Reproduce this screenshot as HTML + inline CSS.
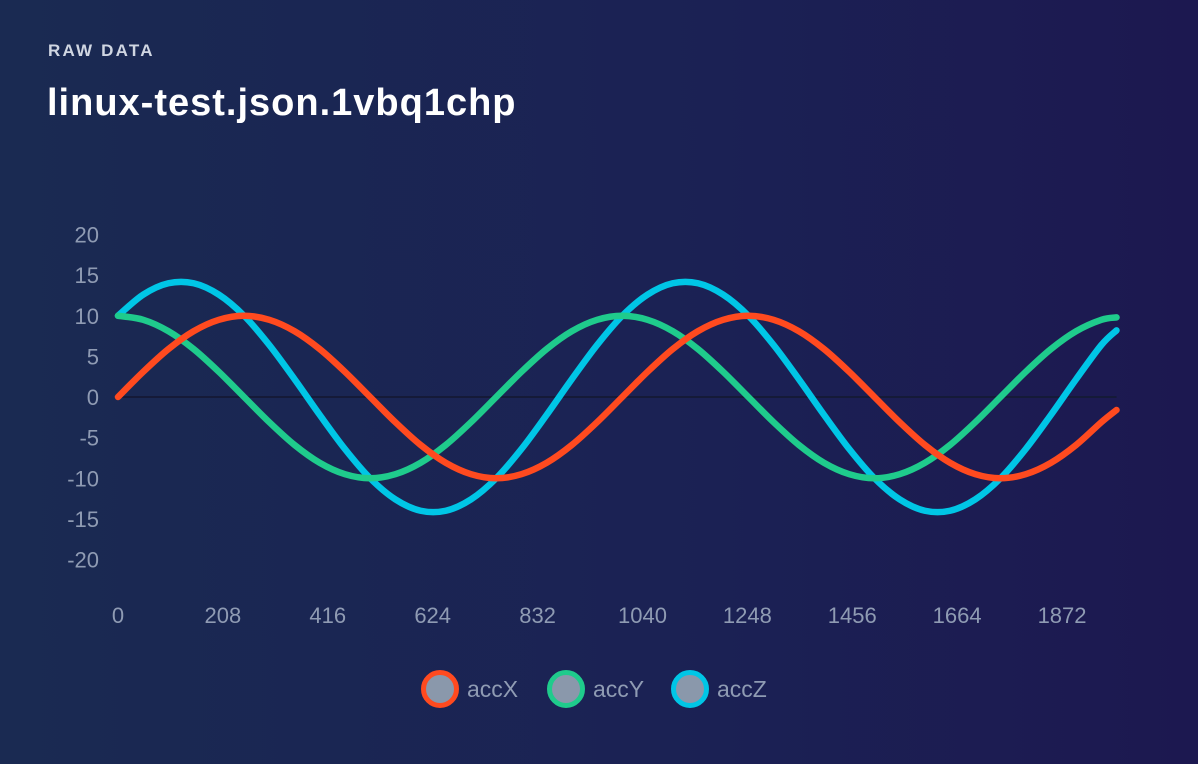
<!DOCTYPE html>
<html><head><meta charset="utf-8">
<style>
html,body{margin:0;padding:0;}
body{width:1198px;height:764px;overflow:hidden;background:linear-gradient(90deg,#1a2a52 0%,#1b2154 60%,#1c1850 100%);font-family:"Liberation Sans",sans-serif;position:relative;}
.sub{position:absolute;left:48px;top:41px;font-size:17px;font-weight:bold;letter-spacing:2.2px;color:#d0d6e2;}
.title{position:absolute;left:47px;top:82px;font-size:38px;letter-spacing:1px;font-weight:bold;color:#fff;}
svg{position:absolute;left:0;top:0;}
text{font-family:"Liberation Sans",sans-serif;}
</style></head><body>
<div class="sub">RAW DATA</div>
<div class="title">linux-test.json.1vbq1chp</div>
<svg id="chart" width="1198" height="764"></svg>
<script>
const times=[0,50,100,150,200,250,300,350,400,450,500,550,600,650,700,750,800,850,900,950,1000,1050,1100,1150,1200,1250,1300,1350,1400,1450,1500,1550,1600,1650,1700,1750,1800,1850,1900,1950,1980];
const accX=[0,3.1,5.9,8.1,9.5,10,9.5,8.1,5.9,3.1,0,-3.1,-5.9,-8.1,-9.5,-10,-9.5,-8.1,-5.9,-3.1,0,3.1,5.9,8.1,9.5,10,9.5,8.1,5.9,3.1,0,-3.1,-5.9,-8.1,-9.5,-10,-9.5,-8.1,-5.9,-3.1,-1.6];
const accY=[10,9.5,8.1,5.9,3.1,0,-3.1,-5.9,-8.1,-9.5,-10,-9.5,-8.1,-5.9,-3.1,0,3.1,5.9,8.1,9.5,10,9.5,8.1,5.9,3.1,0,-3.1,-5.9,-8.1,-9.5,-10,-9.5,-8.1,-5.9,-3.1,0,3.1,5.9,8.1,9.5,9.8];
const accZ=[10,12.6,14,14,12.6,10,6.4,2.2,-2.2,-6.4,-10,-12.6,-14,-14,-12.6,-10,-6.4,-2.2,2.2,6.4,10,12.6,14,14,12.6,10,6.4,2.2,-2.2,-6.4,-10,-12.6,-14,-14,-12.6,-10,-6.4,-2.2,2.2,6.4,8.2];
const yTicks=[20,15,10,5,0,-5,-10,-15,-20];
const xTicks=[0,208,416,624,832,1040,1248,1456,1664,1872];
const seriesNames=["accX","accY","accZ"];
const colors=["#ff4a1f","#1fcb8c","#00c6e6"];

const NS="http://www.w3.org/2000/svg";
const svg=document.getElementById('chart');
const X=t=>118+t*0.5043;
const Y=v=>397-v*8.125;
function mk(tag,attrs,parent){const e=document.createElementNS(NS,tag);for(const k in attrs)e.setAttribute(k,attrs[k]);(parent||svg).appendChild(e);return e;}

const zl=mk('line',{x1:X(0),x2:X(1980),y1:Y(0),y2:Y(0),stroke:'#151a38','stroke-width':2});



yTicks.forEach(v=>{const t=mk('text',{x:99,y:Y(v)+8,'text-anchor':'end','font-size':22,fill:'#8f9bb3'});t.textContent=v;

});
xTicks.forEach(v=>{const t=mk('text',{x:X(v),y:623,'text-anchor':'middle','font-size':22,fill:'#8f9bb3'});t.textContent=v;

});

function pathFor(vals){
  const p=vals.map((v,i)=>[X(times[i]),Y(v)]);
  let d=`M${p[0][0]},${p[0][1]}`;
  for(let i=0;i<p.length-1;i++){
    const p0=p[i-1]||p[i],p1=p[i],p2=p[i+1],p3=p[i+2]||p2;
    const c1=[p1[0]+(p2[0]-p0[0])/6,p1[1]+(p2[1]-p0[1])/6];
    const c2=[p2[0]-(p3[0]-p1[0])/6,p2[1]-(p3[1]-p1[1])/6];
    d+=`C${c1[0]},${c1[1]} ${c2[0]},${c2[1]} ${p2[0]},${p2[1]}`;
  }
  return d;
}
[accZ,accY,accX].forEach((vals,j)=>{
  const idx=2-j;
  const l=mk('path',{d:pathFor(vals),fill:'none',stroke:colors[idx],'stroke-width':6.5,'stroke-linecap':'round'});
  
  
});

const lx=[440,566,690];
seriesNames.forEach((n,i)=>{
  const g=mk('g',{});
  
  
  mk('circle',{cx:lx[i],cy:689,r:16.5,fill:'#8a98ab',stroke:colors[i],'stroke-width':5},g);
  const t=mk('text',{x:lx[i]+27,y:697,'font-size':23,fill:'#8f9bb3'},g);t.textContent=n;
});
</script>
</body></html>
